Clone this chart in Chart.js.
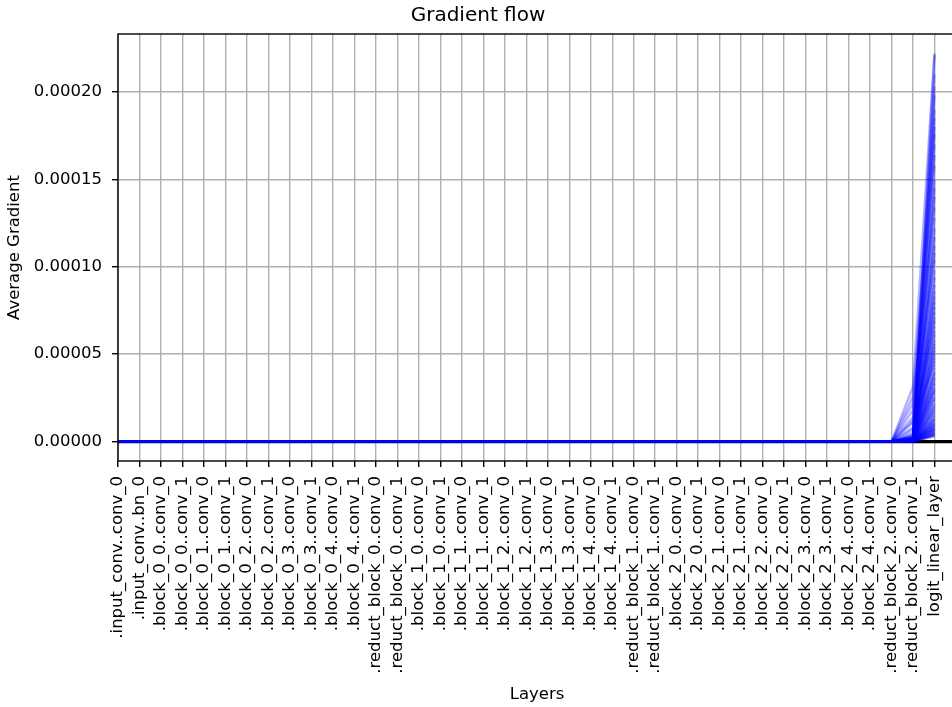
<!DOCTYPE html>
<html>
<head>
<meta charset="utf-8">
<script src="https://cdn.jsdelivr.net/npm/chart.js@4.4.0/dist/chart.umd.min.js"></script>
<style>
  html, body { margin: 0; padding: 0; background: #fff; overflow: hidden; }
  #wrap { width: 956px; height: 707px; }
</style>
</head>
<body>
<div id="wrap"><canvas id="chart" width="956" height="707"></canvas></div>
<script>
const layerNames = [
  ".input_conv..conv_0", ".input_conv..bn_0",
  ".block_0_0..conv_0", ".block_0_0..conv_1", ".block_0_1..conv_0", ".block_0_1..conv_1",
  ".block_0_2..conv_0", ".block_0_2..conv_1", ".block_0_3..conv_0", ".block_0_3..conv_1",
  ".block_0_4..conv_0", ".block_0_4..conv_1",
  ".reduct_block_0..conv_0", ".reduct_block_0..conv_1",
  ".block_1_0..conv_0", ".block_1_0..conv_1", ".block_1_1..conv_0", ".block_1_1..conv_1",
  ".block_1_2..conv_0", ".block_1_2..conv_1", ".block_1_3..conv_0", ".block_1_3..conv_1",
  ".block_1_4..conv_0", ".block_1_4..conv_1",
  ".reduct_block_1..conv_0", ".reduct_block_1..conv_1",
  ".block_2_0..conv_0", ".block_2_0..conv_1", ".block_2_1..conv_0", ".block_2_1..conv_1",
  ".block_2_2..conv_0", ".block_2_2..conv_1", ".block_2_3..conv_0", ".block_2_3..conv_1",
  ".block_2_4..conv_0", ".block_2_4..conv_1",
  ".reduct_block_2..conv_0", ".reduct_block_2..conv_1",
  "logit_linear_layer"
];

// every layer up to .reduct_block_2..conv_0 reads as zero in every step
const earlyLayerGrad = 0;

// one entry per plotted step
const reductConv1Grads = [
  0.0000314, 0.000011, 0.000026, 0.0000068, 0.000018, 0.000022, 0.000005, 0.000014, 0.000003, 0.0000024,
  0.000004, 0.000002, 0.0000016, 0.0000035, 0.0000012, 0.000001, 0.0000018, 0.0000008, 0.0000026, 0.0000006,
  0.0000014, 0.0000009, 0.0000011, 0.0000005, 0.0000007, 0.0000013, 0.0000004, 0.0000006, 0.0000008, 0.0000003,
  0.0000005, 0.0000007, 0.0000004, 0.0000003, 0.0000006, 0.0000002, 0.0000004, 0.0000005, 0.0000003, 0.0000002,
  0.0000004, 0.0000003, 0.0000002, 0.0000003, 0.0000002, 0.0000002, 0.0000001, 0.0000002, 0.0000001,
  0.0000009, 0.0000028, 0.0000006, 0.0000021, 0.0000012, 0.0000004, 0.0000017, 0.0000008, 0.0000005, 0.0000011,
  0.0000003, 0.0000007, 0.0000015, 0.0000004, 0.0000006, 0.0000009, 0.0000003, 0.0000005, 0.0000002, 0.0000004,
  0.000008, 0.0000006, 0.0000003, 0.0000002, 0.0000005, 0.000012, 0.0000004, 0.0000003, 0.0000002, 0.0000003,
  0.0000002, 0.0000004, 0.0000002, 0.0000001, 0.0000003, 0.0000002, 0.0000001, 0.0000002, 0.0000001, 0.0000001
];
const logitGrads = [
  0.000222, 0.000203, 0.000185, 0.000176, 0.000164, 0.000134, 0.000117, 0.000104, 0.0000896, 0.000080,
  0.000074, 0.000069, 0.000063, 0.000058, 0.000054, 0.000050, 0.000046, 0.000042, 0.000039, 0.000036,
  0.000033, 0.000030, 0.000028, 0.000026, 0.000024, 0.000022, 0.000020, 0.000018, 0.000017, 0.000015,
  0.000014, 0.000013, 0.000012, 0.000011, 0.000010, 0.0000095, 0.000009, 0.0000085, 0.000008, 0.0000075,
  0.000007, 0.0000065, 0.000006, 0.0000055, 0.000005, 0.0000045, 0.000004, 0.0000035, 0.000003,
  0.000221, 0.000210, 0.000198, 0.000190, 0.000180, 0.000170, 0.000158, 0.000150, 0.000145, 0.000140,
  0.000128, 0.000122, 0.000112, 0.000108, 0.000098, 0.000094, 0.000086, 0.000083, 0.000077, 0.000071,
  0.000066, 0.000061, 0.000056, 0.000052, 0.000048, 0.000044, 0.000040, 0.000037, 0.000034, 0.000031,
  0.000029, 0.000025, 0.000021, 0.000019, 0.000016, 0.0000125, 0.0000105, 0.0000068, 0.0000048, 0.0000038
];

const yTickValues = [0, 0.00005, 0.0001, 0.00015, 0.0002];

const last = layerNames.length - 1;
function stepSeries(i) {
  return layerNames.map((_, j) => ({
    x: j,
    y: j === last ? logitGrads[i] : j === last - 1 ? reductConv1Grads[i] : earlyLayerGrad
  }));
}

const datasets = logitGrads.map((_, i) => ({
  data: stepSeries(i),
  borderColor: "rgba(0,0,255,0.3)",
  borderWidth: 2.5,
  pointRadius: 0,
  tension: 0,
  order: 0
}));
datasets.push({
  data: [{ x: 0, y: 0 }, { x: layerNames.length + 1, y: 0 }],
  borderColor: "#000",
  borderWidth: 3.3,
  pointRadius: 0,
  order: 1
});

const frame = {
  id: "frame",
  afterDatasetsDraw(chart) {
    const { ctx, chartArea: a } = chart;
    ctx.save();
    ctx.strokeStyle = "#000";
    ctx.lineWidth = 1.4;
    ctx.strokeRect(a.left, a.top, a.right - a.left, a.bottom - a.top);
    ctx.restore();
  }
};

Chart.defaults.font.family = "'DejaVu Sans', sans-serif";
Chart.defaults.color = "#000";

const grid = {
  color: "#b0b0b0",
  lineWidth: 1.4,
  tickLength: 6,
  tickColor: "#000",
  tickWidth: 1.4
};

new Chart(document.getElementById("chart"), {
  type: "line",
  data: { datasets },
  plugins: [frame],
  options: {
    responsive: false,
    animation: false,
    devicePixelRatio: 1,
    layout: { padding: 0 },
    plugins: {
      legend: { display: false },
      tooltip: { enabled: false },
      title: {
        display: true,
        text: "Gradient flow",
        color: "#000",
        font: { size: 20, weight: "normal" },
        padding: { top: 4, bottom: 6 }
      }
    },
    scales: {
      x: {
        type: "linear",
        min: 0,
        max: layerNames.length,
        grid,
        border: { display: false },
        ticks: {
          stepSize: 1,
          maxTicksLimit: 100,
          autoSkip: false,
          minRotation: 90,
          maxRotation: 90,
          padding: 9,
          font: { size: 16.5 },
          callback: (v) => layerNames[v] ?? ""
        },
        title: {
          display: true,
          text: "Layers",
          font: { size: 16.5 },
          padding: { top: 0, bottom: 2 }
        },
        afterFit(s) {
          s.height = 246;
          s.paddingLeft = 0;
          s.paddingRight = 0;
        }
      },
      y: {
        type: "linear",
        min: -0.0000111,
        max: 0.0002331,
        grid,
        border: { display: false },
        afterBuildTicks(s) {
          s.ticks = yTickValues.map((value) => ({ value }));
        },
        ticks: {
          padding: 10,
          font: { size: 16.5 },
          callback: (v) => Number(v).toFixed(5)
        },
        title: {
          display: true,
          text: "Average Gradient",
          font: { size: 16.5 },
          padding: { top: 5, bottom: 0 }
        },
        afterFit(s) {
          s.width = 118;
          s.paddingTop = 0;
          s.paddingBottom = 0;
        }
      }
    }
  }
});
</script>
</body>
</html>
